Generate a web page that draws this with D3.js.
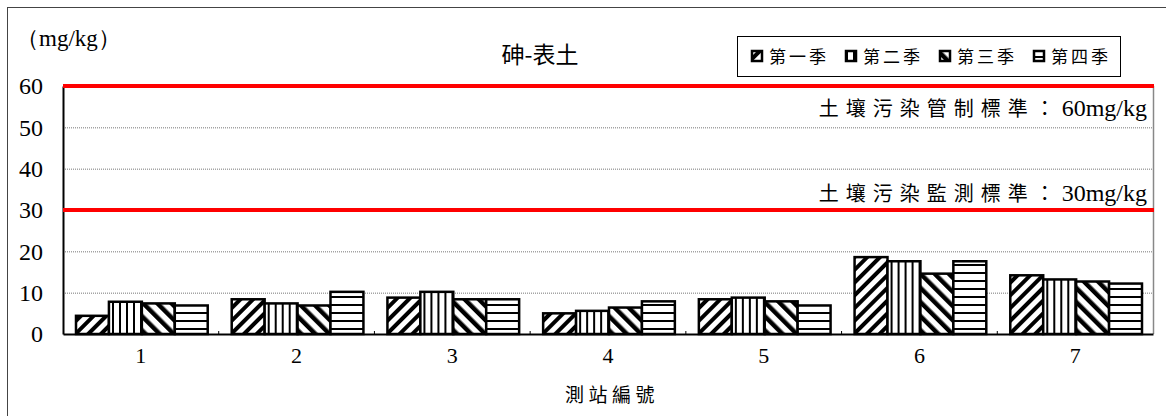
<!DOCTYPE html>
<html>
<head>
<meta charset="utf-8">
<script src="https://cdn.jsdelivr.net/npm/d3@7"></script>
<style>
  body { margin: 0; background: #fff; }
  svg { display: block; }
</style>
</head>
<body>
<div id="chart"></div>
<script>
// data
const stations = ['1', '2', '3', '4', '5', '6', '7'];
const seasons = ['第一季', '第二季', '第三季', '第四季'];
const q1 = [4.4, 8.4, 8.8, 5.0, 8.4, 18.6, 14.2];
const q2 = [7.8, 7.4, 10.2, 5.6, 8.8, 17.6, 13.2];
const q3 = [7.4, 6.9, 8.4, 6.4, 7.9, 14.6, 12.7];
const q4 = [6.9, 10.2, 8.4, 7.9, 6.9, 17.6, 12.2];
const yTicks = [0, 10, 20, 30, 40, 50, 60];
const limitValues = [60, 30];
const limitNames = ['土壤污染管制標準：', '土壤污染監測標準：'];
const limitUnits = ['60mg/kg', '30mg/kg'];

const series = [q1, q2, q3, q4];

const W = 1166, H = 416;
const margin = { left: 63, right: 13, top: 86, bottom: 82 };
const serif = '"Liberation Serif", "DejaVu Serif", serif';
const cjk = '"Noto Sans CJK TC", "Noto Sans CJK SC", sans-serif';

const svg = d3.select('#chart').append('svg')
  .attr('width', W)
  .attr('height', H);

// patterns, one per season
const defs = svg.append('defs');
function stripes(id, w, thick, angle) {
  const p = defs.append('pattern')
    .attr('id', id)
    .attr('patternUnits', 'userSpaceOnUse')
    .attr('width', w)
    .attr('height', w)
    .attr('patternTransform', `rotate(${angle})`);
  p.append('rect').attr('width', w).attr('height', w).attr('fill', '#fff');
  p.append('rect').attr('width', thick).attr('height', w).attr('fill', '#000');
}
stripes('p0', 9, 4, 45);     // "/"
stripes('p1', 7, 2, 0);      // vertical
stripes('p2', 10, 4.5, -45); // "\"
stripes('p3', 8, 2, 90);     // horizontal

// outer frame
svg.append('rect')
  .attr('x', 7.5).attr('y', 7.5)
  .attr('width', W + 10).attr('height', H + 10)
  .attr('fill', 'none')
  .attr('stroke', '#444')
  .attr('stroke-width', 1);

const x0 = margin.left, x1 = W - margin.right;
const yBottom = H - margin.bottom;

const x = d3.scaleBand()
  .domain(stations)
  .range([x0, x1]);

const xs = d3.scaleBand()
  .domain(d3.range(seasons.length))
  .range([13, x.bandwidth() - 11]);

const y = d3.scaleLinear()
  .domain([0, 60])
  .range([yBottom, margin.top]);

// dotted grid
svg.append('g')
  .selectAll('line')
  .data(yTicks.filter(d => d > 0 && !limitValues.includes(d)))
  .join('line')
  .attr('x1', x0).attr('x2', x1)
  .attr('y1', d => y(d) + 0.5).attr('y2', d => y(d) + 0.5)
  .attr('stroke', '#777')
  .attr('stroke-width', 1)
  .attr('stroke-dasharray', '1,1');

// plot frame, right side
svg.append('line')
  .attr('x1', x1 + 0.5).attr('x2', x1 + 0.5)
  .attr('y1', y(60)).attr('y2', yBottom)
  .attr('stroke', '#888').attr('stroke-width', 1.5);

// bars
const groups = svg.append('g')
  .selectAll('g')
  .data(stations)
  .join('g')
  .attr('transform', d => `translate(${x(d)},0)`);

groups.selectAll('rect')
  .data((d, i) => series.map((s, k) => ({ k, v: s[i] })))
  .join('rect')
  .attr('x', d => xs(d.k))
  .attr('width', xs.bandwidth())
  .attr('y', d => y(d.v))
  .attr('height', d => yBottom - y(d.v))
  .attr('fill', d => `url(#p${d.k})`)
  .attr('stroke', '#000')
  .attr('stroke-width', 2.5);

// x axis
const xAxis = svg.append('g')
  .attr('transform', `translate(0,${yBottom})`)
  .call(d3.axisBottom(x).tickSize(0).tickPadding(13));
xAxis.select('.domain').attr('stroke', '#000').attr('stroke-width', 2);
xAxis.selectAll('text')
  .attr('font-family', serif)
  .attr('font-size', 22)
  .attr('fill', '#000');

// little category dividers
svg.append('g')
  .selectAll('line')
  .data(stations.slice(1))
  .join('line')
  .attr('x1', d => x(d)).attr('x2', d => x(d))
  .attr('y1', yBottom - 3).attr('y2', yBottom)
  .attr('stroke', '#000').attr('stroke-width', 1);

// y axis
const yAxis = svg.append('g')
  .attr('transform', `translate(${x0},0)`)
  .call(d3.axisLeft(y).tickValues(yTicks).tickSize(0).tickPadding(20));
yAxis.select('.domain').attr('stroke', '#000').attr('stroke-width', 2);
yAxis.selectAll('text')
  .attr('font-family', serif)
  .attr('font-size', 24)
  .attr('fill', '#000');

// limit lines
svg.append('g')
  .selectAll('line')
  .data(limitValues)
  .join('line')
  .attr('x1', x0).attr('x2', x1 + 1)
  .attr('y1', d => y(d)).attr('y2', d => y(d))
  .attr('stroke', '#ff0000')
  .attr('stroke-width', 4);

const limitText = svg.append('g')
  .selectAll('text')
  .data(limitValues)
  .join('text')
  .attr('x', x1 - 6)
  .attr('y', (d, i) => i === 0 ? y(d) + 30 : y(d) - 9)
  .attr('text-anchor', 'end')
  .attr('fill', '#000');
limitText.append('tspan')
  .attr('font-family', cjk)
  .attr('font-size', 20)
  .attr('letter-spacing', 7)
  .text((d, i) => limitNames[i]);
limitText.append('tspan')
  .attr('font-family', serif)
  .attr('font-size', 24)
  .text((d, i) => limitUnits[i]);

// title and axis names
svg.append('text')
  .attr('x', 540).attr('y', 63)
  .attr('text-anchor', 'middle')
  .attr('font-family', cjk)
  .attr('font-size', 23)
  .text('砷-表土');

svg.append('text')
  .attr('x', 16).attr('y', 46)
  .attr('font-family', serif)
  .attr('font-size', 23)
  .text('（mg/kg）');

svg.append('text')
  .attr('x', 612).attr('y', 402)
  .attr('text-anchor', 'middle')
  .attr('font-family', cjk)
  .attr('font-size', 19)
  .attr('letter-spacing', 4.5)
  .text('測站編號');

// legend
const legend = svg.append('g').attr('transform', 'translate(737,36)');
legend.append('rect')
  .attr('x', 0.5).attr('y', 0.5)
  .attr('width', 383).attr('height', 40)
  .attr('fill', '#fff')
  .attr('stroke', '#000')
  .attr('stroke-width', 1);

const items = legend.selectAll('g.item')
  .data(seasons)
  .join('g')
  .attr('class', 'item')
  .attr('transform', (d, i) => `translate(${15 + i * 94},20)`);
items.append('rect')
  .attr('x', 0).attr('y', -5)
  .attr('width', 10).attr('height', 10)
  .attr('fill', (d, i) => `url(#p${i})`)
  .attr('stroke', '#000')
  .attr('stroke-width', 2.5);
items.append('text')
  .attr('x', 17).attr('y', 7)
  .attr('font-family', cjk)
  .attr('font-size', 17)
  .attr('letter-spacing', 3)
  .text(d => d);
</script>
</body>
</html>
